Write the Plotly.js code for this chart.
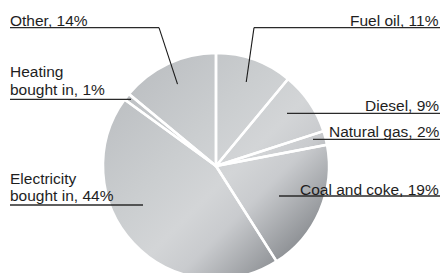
<!DOCTYPE html>
<html>
<head>
<meta charset="utf-8">
<script src="https://cdn.plot.ly/plotly-3.0.1.min.js"></script>
<style>
html, body { margin: 0; padding: 0; overflow: hidden; background: #fff; }
#chart { width: 440px; height: 290px; }
</style>
</head>
<body>
<div id="chart"></div>
<script>
// ---- data ----
const categories = ['Fuel oil', 'Diesel', 'Natural gas', 'Coal and coke', 'Electricity bought in', 'Heating bought in', 'Other'];
const shares = [11, 9, 2, 19, 44, 1, 14];

// ---- layout helpers (pixels) ----
const W = 440, H = 290;
const pieBox = { left: 103, top: 53, size: 226 };
const cx = pieBox.left + pieBox.size / 2, cy = pieBox.top + pieBox.size / 2, R = pieBox.size / 2;
const px = x => x / W;
const py = y => 1 - y / H;

// label placement (styling only)
const labelStyle = [
  { side: 'right', base: [25.5], ul: 27.7, ulFrom: 254, ulTo: 440, leaderK: 0.79 },
  { side: 'right', base: [111], ul: 113.3, ulFrom: 287, ulTo: 440 },
  { side: 'right', base: [136.5], ul: 139.3, ulFrom: 313, ulTo: 440 },
  { side: 'right', base: [194.3], ul: 196, ulFrom: 279, ulTo: 440 },
  { side: 'left', base: [183.4, 201], ul: 205, ulFrom: 10, ulTo: 143 },
  { side: 'left', base: [76.7, 94.3], ul: 99.3, ulFrom: 10, ulTo: 131 },
  { side: 'left', base: [26], ul: 27.7, ulFrom: 10, ulTo: 159, leaderK: 0.8 }
];

const total = shares.reduce((a, b) => a + b, 0);
const annotations = [];
const shapes = [];
let cum = 0;
const FS = 15.5;
categories.forEach((cat, i) => {
  const v = shares[i];
  const mid = (cum + v / 2) / total * 2 * Math.PI;
  cum += v;
  const st = labelStyle[i];
  let lines;
  const m = cat.match(/^(\S+) (bought in)$/);
  if (m) lines = [m[1], m[2] + ', ' + v + '%'];
  else lines = [cat + ', ' + v + '%'];
  lines.forEach((t, j) => {
    annotations.push({
      text: t, showarrow: false, xref: 'paper', yref: 'paper',
      x: st.side === 'left' ? px(st.ulFrom - 2) : px(st.ulTo + 1),
      xanchor: st.side === 'left' ? 'left' : 'right',
      y: py(st.base[j] + 5.3), yanchor: 'bottom',
      font: { family: 'Liberation Sans, Arial, sans-serif', size: FS, color: '#1e1e1e' }
    });
  });
  shapes.push({ type: 'line', xref: 'paper', yref: 'paper',
    x0: px(st.ulFrom), x1: px(st.ulTo), y0: py(st.ul), y1: py(st.ul),
    line: { color: '#2a2a2a', width: 1.3 } });
  if (st.leaderK) {
    const ax = cx + R * st.leaderK * Math.sin(mid);
    const ay = cy - R * st.leaderK * Math.cos(mid);
    const sx = st.side === 'left' ? st.ulTo : st.ulFrom;
    shapes.push({ type: 'line', xref: 'paper', yref: 'paper',
      x0: px(sx), y0: py(st.ul), x1: px(ax), y1: py(ay),
      line: { color: '#1a1a1a', width: 1.1 } });
  }
});

const gradSvg = '<svg xmlns="http://www.w3.org/2000/svg" width="200" height="200" viewBox="0 0 200 200">' +
  '<defs><linearGradient id="g" x1="0" y1="0" x2="1" y2="1">' +
  '<stop offset="0.15" stop-color="#bec1c4"/>' +
  '<stop offset="0.40" stop-color="#cbced0"/>' +
  '<stop offset="0.55" stop-color="#d3d5d7"/>' +
  '<stop offset="0.66" stop-color="#c9cbce"/>' +
  '<stop offset="0.85" stop-color="#909397"/>' +
  '</linearGradient></defs>' +
  '<circle cx="100" cy="100" r="100" fill="url(#g)"/></svg>';

const trace = {
  type: 'pie',
  labels: categories,
  values: shares,
  sort: false,
  direction: 'clockwise',
  rotation: 0,
  textinfo: 'none',
  hoverinfo: 'label+percent',
  marker: { colors: shares.map(() => 'rgba(0,0,0,0)'), line: { color: '#ffffff', width: 2.5 } },
  domain: { x: [px(pieBox.left), px(pieBox.left + pieBox.size)], y: [py(pieBox.top + pieBox.size), py(pieBox.top)] }
};

const layout = {
  width: W, height: H,
  margin: { l: 0, r: 0, t: 0, b: 0 },
  paper_bgcolor: '#ffffff',
  showlegend: false,
  annotations: annotations,
  shapes: shapes,
  images: [{
    source: 'data:image/svg+xml;charset=utf-8,' + encodeURIComponent(gradSvg),
    xref: 'paper', yref: 'paper',
    x: px(pieBox.left), y: py(pieBox.top),
    sizex: pieBox.size / W, sizey: pieBox.size / H,
    sizing: 'stretch', xanchor: 'left', yanchor: 'top', layer: 'below'
  }]
};

Plotly.newPlot('chart', [trace], layout, { staticPlot: true, displayModeBar: false });
</script>
</body>
</html>
